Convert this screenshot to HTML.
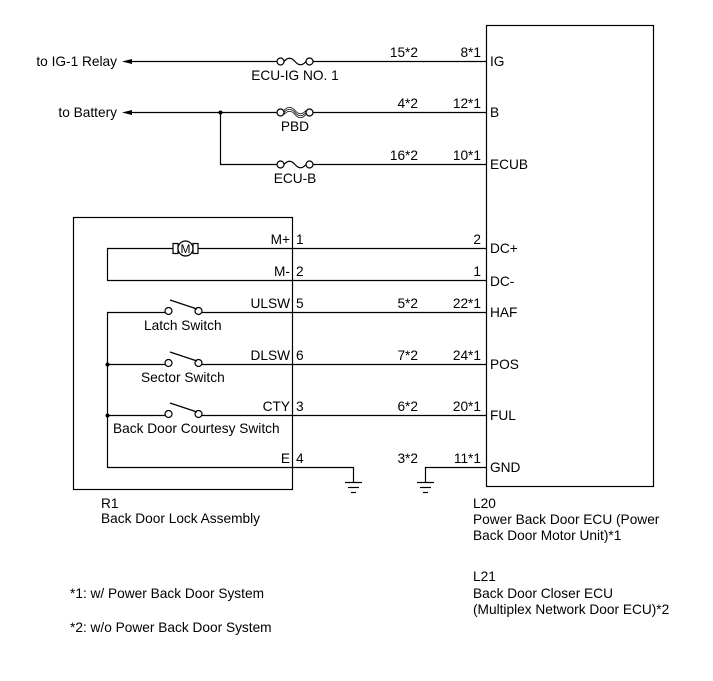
<!DOCTYPE html>
<html><head><meta charset="utf-8"><style>
html,body{margin:0;padding:0;background:#fff;}
svg{display:block;font-family:"Liberation Sans",Arial,sans-serif;font-size:13.7px;}
</style></head><body>
<svg width="713" height="681" viewBox="0 0 713 681" xmlns="http://www.w3.org/2000/svg">
<g stroke="#000" stroke-width="1.2" fill="none">
<rect x="486.5" y="25.5" width="167" height="461"/>
<rect x="73.5" y="217.5" width="219" height="272"/>
<line x1="127" y1="61.5" x2="277" y2="61.5"/>
<line x1="311" y1="61.5" x2="486" y2="61.5"/>
<line x1="127" y1="112.5" x2="277" y2="112.5"/>
<line x1="311" y1="112.5" x2="486" y2="112.5"/>
<polyline points="220.5,112 220.5,164.5 277,164.5"/>
<line x1="311" y1="164.5" x2="486" y2="164.5"/>
<circle cx="280.5" cy="61.5" r="3.5" fill="#fff"/><circle cx="309.5" cy="61.5" r="3.5" fill="#fff"/>
<path d="M284 61.5 Q289.5 55 295 61.5 Q300.5 68 306 61.5"/>
<circle cx="280.5" cy="112.5" r="3.5" fill="#fff"/><circle cx="309.5" cy="112.5" r="3.5" fill="#fff"/>
<path d="M284 112.5 Q289.5 106 295 112.5 Q300.5 119 306 112.5" stroke-width="0.8"/>
<path d="M284 110.5 Q289.5 104 295 110.5 Q300.5 117 306 110.5" stroke-width="0.8"/>
<path d="M284 114.5 Q289.5 108 295 114.5 Q300.5 121 306 114.5" stroke-width="0.8"/>
<circle cx="280.5" cy="164.5" r="3.5" fill="#fff"/><circle cx="309.5" cy="164.5" r="3.5" fill="#fff"/>
<path d="M284 164.5 Q289.5 158 295 164.5 Q300.5 171 306 164.5"/>
<polyline points="107.5,280.5 107.5,248.5 173,248.5"/>
<line x1="198" y1="248.5" x2="486" y2="248.5"/>
<rect x="173" y="243.5" width="5" height="10"/>
<rect x="193" y="243.5" width="5" height="10"/>
<circle cx="185.5" cy="248.5" r="7.5" fill="#fff"/>
<line x1="107" y1="280.5" x2="486" y2="280.5"/>
<polyline points="107.5,467.5 107.5,312.5 165,312.5"/>
<line x1="202" y1="312.5" x2="486" y2="312.5"/>
<circle cx="168.5" cy="311" r="3.5" fill="#fff"/><circle cx="198.5" cy="311" r="3.5" fill="#fff"/>
<line x1="170" y1="300" x2="197" y2="309"/>
<line x1="107" y1="364.5" x2="165" y2="364.5"/>
<line x1="202" y1="364.5" x2="486" y2="364.5"/>
<circle cx="168.5" cy="363" r="3.5" fill="#fff"/><circle cx="198.5" cy="363" r="3.5" fill="#fff"/>
<line x1="170" y1="352" x2="197" y2="361"/>
<line x1="107" y1="415.5" x2="165" y2="415.5"/>
<line x1="202" y1="415.5" x2="486" y2="415.5"/>
<circle cx="168.5" cy="414" r="3.5" fill="#fff"/><circle cx="198.5" cy="414" r="3.5" fill="#fff"/>
<line x1="170" y1="403" x2="197" y2="412"/>
<polyline points="107,467.5 353.5,467.5 353.5,482"/>
<line x1="345" y1="482.5" x2="362" y2="482.5"/><line x1="348" y1="487.5" x2="359" y2="487.5"/><line x1="351" y1="492.5" x2="356" y2="492.5"/>
<polyline points="486,467.5 425.5,467.5 425.5,482"/>
<line x1="417" y1="482.5" x2="434" y2="482.5"/><line x1="420" y1="487.5" x2="431" y2="487.5"/><line x1="423" y1="492.5" x2="428" y2="492.5"/>
</g>
<g fill="#000">
<polygon points="122,61.5 132,59 132,64"/>
<polygon points="122,112.5 132,110 132,115"/>
<circle cx="220.5" cy="112.5" r="2"/>
<circle cx="107.5" cy="364.5" r="2"/>
<circle cx="107.5" cy="415.5" r="2"/>
<text x="185.5" y="253" font-size="12" text-anchor="middle">M</text>
<text x="117" y="66" text-anchor="end">to IG-1 Relay</text>
<text x="117" y="117" text-anchor="end">to Battery</text>
<text x="295" y="80" text-anchor="middle">ECU-IG NO. 1</text>
<text x="295" y="131" text-anchor="middle">PBD</text>
<text x="295" y="183" text-anchor="middle">ECU-B</text>
<g text-anchor="end">
<text x="418" y="57">15*2</text><text x="481" y="57">8*1</text>
<text x="418" y="108">4*2</text><text x="481" y="108">12*1</text>
<text x="418" y="160">16*2</text><text x="481" y="160">10*1</text>
<text x="481" y="244">2</text><text x="481" y="276">1</text>
<text x="418" y="308">5*2</text><text x="481" y="308">22*1</text>
<text x="418" y="360">7*2</text><text x="481" y="360">24*1</text>
<text x="418" y="411">6*2</text><text x="481" y="411">20*1</text>
<text x="418" y="463">3*2</text><text x="481" y="463">11*1</text>
<text x="290" y="244">M+</text><text x="290" y="276">M-</text>
<text x="290" y="308">ULSW</text><text x="290" y="360">DLSW</text>
<text x="290" y="411">CTY</text><text x="290" y="463">E</text>
</g>
<text x="296" y="244">1</text><text x="296" y="276">2</text>
<text x="296" y="308">5</text><text x="296" y="360">6</text>
<text x="296" y="411">3</text><text x="296" y="463">4</text>
<text x="490" y="66">IG</text><text x="490" y="117">B</text><text x="490" y="169">ECUB</text>
<text x="490" y="253">DC+</text><text x="490" y="286">DC-</text>
<text x="490" y="317">HAF</text><text x="490" y="369">POS</text>
<text x="490" y="420">FUL</text><text x="490" y="472">GND</text>
<text x="144" y="330">Latch Switch</text>
<text x="141" y="382">Sector Switch</text>
<text x="113" y="433">Back Door Courtesy Switch</text>
<text x="101" y="508">R1</text>
<text x="101" y="523">Back Door Lock Assembly</text>
<text x="473" y="508">L20</text>
<text x="473" y="524">Power Back Door ECU (Power</text>
<text x="473" y="540">Back Door Motor Unit)*1</text>
<text x="473" y="581">L21</text>
<text x="473" y="598">Back Door Closer ECU</text>
<text x="473" y="614">(Multiplex Network Door ECU)*2</text>
<text x="70" y="598">*1: w/ Power Back Door System</text>
<text x="70" y="632">*2: w/o Power Back Door System</text>
</g>
</svg>
</body></html>
